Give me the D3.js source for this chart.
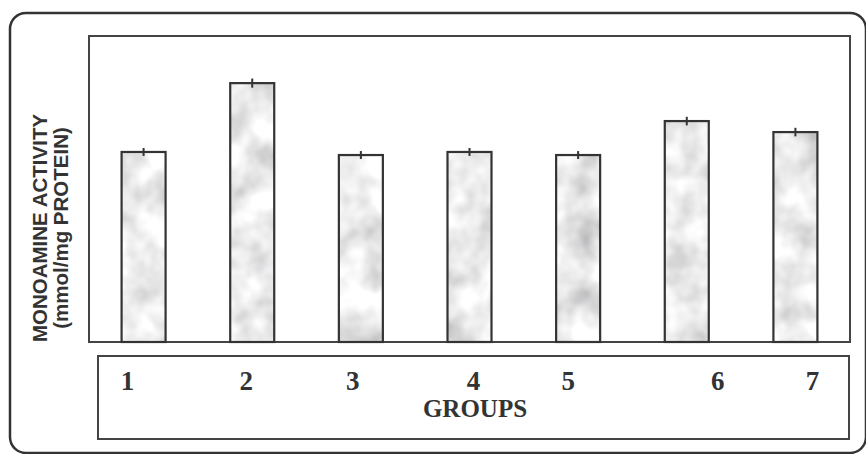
<!DOCTYPE html>
<html>
<head>
<meta charset="utf-8">
<script src="https://cdn.jsdelivr.net/npm/d3@7"></script>
<style>
  html, body { margin: 0; padding: 0; background: #fff; }
  svg { display: block; }
</style>
</head>
<body>
<svg id="chart" width="866" height="454"></svg>
<script>
// Monoamine activity per treatment group (relative units, no value axis shown)
const groups = ["1", "2", "3", "4", "5", "6", "7"];
const activity = [62.1, 84.6, 61.1, 62.1, 61.1, 72.2, 68.6];
const errors = [1.3, 1.5, 1.3, 1.3, 1.3, 1.4, 1.4];

const yTitleLines = ["MONOAMINE ACTIVITY", "(mmol/mg PROTEIN)"];
const xTitle = "GROUPS";

// Layout
const W = 866, H = 454;
const plot = { left: 89, right: 850, top: 36, bottom: 342 };
const labelBox = { left: 98, right: 849, top: 356, bottom: 439 };
// hand-set nudges of the group numbers inside the lower box
const labelNudge = [-16, -6, -8, 4, -10, 31, 17];

const svg = d3.select("#chart");

// Marble-like grey texture for the bar fills
const defs = svg.append("defs");
const marble = defs.append("filter")
  .attr("id", "marble")
  .attr("x", 0).attr("y", 0).attr("width", 1).attr("height", 1)
  .attr("filterUnits", "objectBoundingBox");
marble.append("feTurbulence")
  .attr("type", "fractalNoise")
  .attr("baseFrequency", "0.03 0.028")
  .attr("numOctaves", 3)
  .attr("seed", 11)
  .attr("result", "noise");
marble.append("feColorMatrix")
  .attr("in", "noise")
  .attr("type", "matrix")
  .attr("values",
    "0.85 0 0 0 0.42 " +
    "0.85 0 0 0 0.42 " +
    "0.85 0 0 0 0.43 " +
    "0 0 0 0 1")
  .attr("result", "grey");
marble.append("feComposite")
  .attr("in", "grey")
  .attr("in2", "SourceGraphic")
  .attr("operator", "in");

// Outer rounded frame
svg.append("rect")
  .attr("x", 10).attr("y", 13)
  .attr("width", 856).attr("height", 440)
  .attr("rx", 16).attr("ry", 16)
  .attr("fill", "none")
  .attr("stroke", "#333")
  .attr("stroke-width", 2.5);

// Scales
const x = d3.scaleBand()
  .domain(groups)
  .range([plot.left, plot.right])
  .paddingInner(0.595)
  .paddingOuter(0.3);

const y = d3.scaleLinear()
  .domain([0, 100])
  .range([plot.bottom, plot.top]);

// Plot frame
svg.append("rect")
  .attr("x", plot.left).attr("y", plot.top)
  .attr("width", plot.right - plot.left)
  .attr("height", plot.bottom - plot.top)
  .attr("fill", "none")
  .attr("stroke", "#444")
  .attr("stroke-width", 2);

const data = groups.map((g, i) => ({ g, v: activity[i], e: errors[i], i }));

// Bar fills (textured)
svg.append("g").selectAll("rect")
  .data(data)
  .join("rect")
  .attr("x", d => x(d.g))
  .attr("y", d => y(d.v))
  .attr("width", x.bandwidth())
  .attr("height", d => y(0) - y(d.v))
  .attr("fill", "#ccc")
  .attr("filter", "url(#marble)");

// Bar outlines
svg.append("g").selectAll("rect")
  .data(data)
  .join("rect")
  .attr("x", d => x(d.g))
  .attr("y", d => y(d.v))
  .attr("width", x.bandwidth())
  .attr("height", d => y(0) - y(d.v))
  .attr("fill", "none")
  .attr("stroke", "#333")
  .attr("stroke-width", 2.2);

// Error ticks
svg.append("g").selectAll("line")
  .data(data)
  .join("line")
  .attr("x1", d => x(d.g) + x.bandwidth() / 2)
  .attr("x2", d => x(d.g) + x.bandwidth() / 2)
  .attr("y1", d => y(d.v + d.e))
  .attr("y2", d => y(d.v - d.e))
  .attr("stroke", "#333")
  .attr("stroke-width", 2);

// Lower label box
svg.append("rect")
  .attr("x", labelBox.left).attr("y", labelBox.top)
  .attr("width", labelBox.right - labelBox.left)
  .attr("height", labelBox.bottom - labelBox.top)
  .attr("fill", "none")
  .attr("stroke", "#444")
  .attr("stroke-width", 2);

svg.append("g").selectAll("text")
  .data(data)
  .join("text")
  .attr("x", d => x(d.g) + x.bandwidth() / 2 + labelNudge[d.i])
  .attr("y", 390)
  .attr("text-anchor", "middle")
  .attr("font-family", "'Liberation Serif', 'Times New Roman', serif")
  .attr("font-weight", "bold")
  .attr("font-size", 27)
  .attr("fill", "#333")
  .text(d => d.g);

svg.append("text")
  .attr("x", 475)
  .attr("y", 417)
  .attr("text-anchor", "middle")
  .attr("font-family", "'Liberation Serif', 'Times New Roman', serif")
  .attr("font-weight", "bold")
  .attr("font-size", 25)
  .attr("fill", "#333")
  .text(xTitle);

// Rotated value-axis title
const yt = svg.append("text")
  .attr("transform", "translate(0,228) rotate(-90)")
  .attr("text-anchor", "middle")
  .attr("font-family", "'Liberation Sans', Arial, sans-serif")
  .attr("font-weight", "bold")
  .attr("font-size", 20.5)
  .attr("fill", "#333");
yt.selectAll("tspan")
  .data(yTitleLines)
  .join("tspan")
  .attr("x", 0)
  .attr("y", (d, i) => i === 0 ? 47 : 68)
  .text(d => d);
</script>
</body>
</html>
